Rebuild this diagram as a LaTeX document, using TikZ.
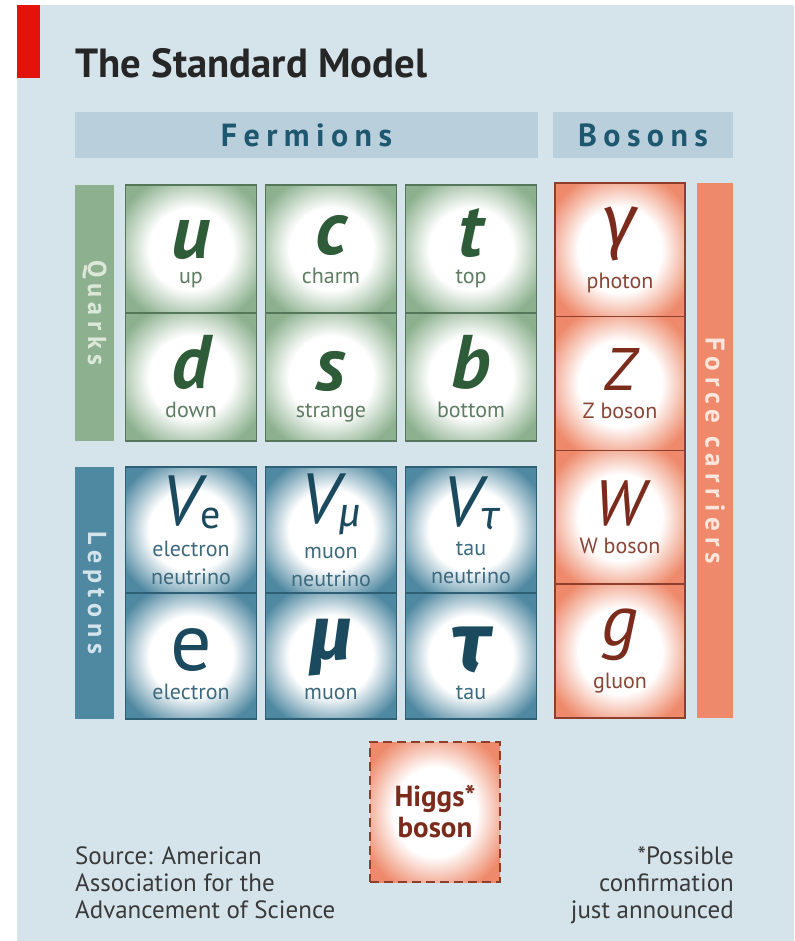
\documentclass[tikz,border=0pt]{standalone}
\usepackage{fontspec}
\setmainfont{PT Sans}
\newfontfamily\greekfont{Fira Sans}
\definecolor{pagebg}{HTML}{D5E3EB}
\definecolor{headbg}{HTML}{B9D0DC}
\definecolor{headtxt}{HTML}{1D5870}
\definecolor{ecored}{HTML}{E3120B}
\definecolor{quarkfill}{HTML}{8DB18F}
\definecolor{quarkline}{HTML}{56775A}
\definecolor{quarktxt}{HTML}{2E5C38}
\definecolor{quarklbl}{HTML}{5E7D62}
\definecolor{quarkpale}{HTML}{DCE8DA}
\definecolor{leptonfill}{HTML}{4F88A1}
\definecolor{leptonline}{HTML}{2F5F75}
\definecolor{leptontxt}{HTML}{1B4A5E}
\definecolor{leptonlbl}{HTML}{3D6A7E}
\definecolor{leptonpale}{HTML}{D3E4EC}
\definecolor{bosonfill}{HTML}{EE8A6B}
\definecolor{bosonline}{HTML}{8E3F2B}
\definecolor{bosontxt}{HTML}{7A2B1C}
\definecolor{bosonlbl}{HTML}{8A4536}
\definecolor{bosonpale}{HTML}{FCE6DD}
\definecolor{notetxt}{HTML}{3A3A3A}
\pgfdeclareradialshading{quarkglow}{\pgfpoint{0bp}{0bp}}{color(0bp)=(white); color(16bp)=(white); color(30bp)=(quarkfill); color(50bp)=(quarkfill)}
\pgfdeclareradialshading{leptonglow}{\pgfpoint{0bp}{0bp}}{color(0bp)=(white); color(16bp)=(white); color(30bp)=(leptonfill); color(50bp)=(leptonfill)}
\pgfdeclareradialshading{bosonglow}{\pgfpoint{0bp}{0bp}}{color(0bp)=(white); color(16bp)=(white); color(30bp)=(bosonfill); color(50bp)=(bosonfill)}
\newcommand{\lblfont}{\fontsize{22}{20}\selectfont\lineskiplimit=12pt\lineskip=12pt}
\newcommand{\quarksym}[1]{{\fontsize{76}{76}\selectfont\bfseries\itshape\color{quarktxt}#1}}
\newcommand{\neutrinosym}[1]{{\fontsize{71}{71}\selectfont\itshape\color{leptontxt}V\raisebox{-3pt}{\fontsize{40}{40}\selectfont #1}}}
\newcommand{\leptonsym}[2]{{\fontsize{#1}{#1}\selectfont\color{leptontxt}#2}}
\newcommand{\bosonsym}[2]{{\fontsize{#1}{#1}\selectfont\itshape\color{bosontxt}#2}}
\newcommand{\headfont}{\fontsize{32}{32}\selectfont\bfseries\addfontfeatures{LetterSpace=20}}
\newcommand{\sidefont}{\fontsize{26}{26}\selectfont\bfseries\addfontfeatures{LetterSpace=22}}
\newcommand{\notefont}{\fontsize{25}{27}\selectfont}
\newcommand{\titlefont}{\fontsize{40.7}{42}\selectfont\bfseries}
\begin{document}
\begin{tikzpicture}[
    x=1pt, y=-1pt,
    cell/.style={
        shade,
        line width=1.5pt,
        inner sep=0pt,
        minimum width=131pt,
        minimum height=128pt,
        align=center,
        font=\lblfont
    },
    quark/.style={cell, shading=quarkglow, draw=quarkline, text=quarklbl, text height=74pt, text depth=6pt},
    lowquark/.style={quark, text height=86pt},
    lepton/.style={cell, minimum height=126pt, shading=leptonglow, draw=leptonline, text=leptonlbl},
    lowlepton/.style={lepton, text height=92pt, text depth=6pt},
    boson/.style={cell, minimum width=130pt, minimum height=133.75pt, shading=bosonglow, draw=bosonline, text=bosonlbl},
    higgs/.style={cell, minimum width=130pt, minimum height=140pt, shading=bosonglow, draw=bosonline, dash pattern=on 9pt off 5pt, text=bosontxt, font=\fontsize{29}{31}\selectfont\bfseries},
    header/.style={fill=headbg, text=headtxt, inner sep=0pt, minimum height=46pt, font=\headfont},
    sidebar/.style={rotate=-90, inner sep=0pt, minimum height=39pt, font=\sidefont},
    note/.style={inner sep=0pt, text=notetxt, font=\notefont}
]
    \useasboundingbox (0,0) rectangle (794,941);
    \fill[white] (0,0) rectangle (794,941);
    \fill[pagebg] (17,5) rectangle (794,941);
    \fill[ecored] (17,5) rectangle (40,78);

    \node[anchor=base west, inner sep=0pt, text=black!85, font=\titlefont] (title) at (75,78) {The Standard Model};

    \node[header, minimum width=463pt] (fermions) at (306.5,135) {Fermions};
    \node[header, minimum width=180pt] (bosons) at (643,135) {Bosons};

    \node[sidebar, fill=quarkfill, text=quarkpale, minimum width=256pt] (quarks) at (94.5,313) {Quarks};
    \node[sidebar, fill=leptonfill, text=leptonpale, minimum width=252pt] (leptons) at (94.5,593) {Leptons};
    \node[sidebar, fill=bosonfill, text=bosonpale, minimum width=535pt, minimum height=36pt, font=\fontsize{27}{27}\selectfont\bfseries\addfontfeatures{LetterSpace=22}] (carriers) at (715,450.5) {Force carriers};

    \node[quark] (up) at (191,249) {\quarksym{u}\\up};
    \node[quark] (charm) at (331,249) {\quarksym{c}\\charm};
    \node[quark] (top) at (471,249) {\quarksym{t}\\top};
    \node[lowquark] (down) at (191,377) {\quarksym{d}\\down};
    \node[lowquark] (strange) at (331,377) {\quarksym{s}\\strange};
    \node[lowquark] (bottom) at (471,377) {\quarksym{b}\\bottom};

    \node[lepton] (nue) at (191,530) {\neutrinosym{\upshape e}\\electron\\neutrino};
    \node[lepton] (numu) at (331,530) {\neutrinosym{\greekfont μ}\\muon\\neutrino};
    \node[lepton] (nutau) at (471,530) {\neutrinosym{\greekfont τ}\\tau\\neutrino};
    \node[lowlepton] (electron) at (191,656) {\leptonsym{82}{e}\\electron};
    \node[lowlepton] (muon) at (331,656) {\leptonsym{76}{\greekfont\bfseries\itshape μ}\\muon};
    \node[lowlepton] (tau) at (471,656) {\leptonsym{84}{\greekfont\bfseries\itshape τ}\\tau};

    \node[boson] (photon) at (620,249.9) {\bosonsym{72}{\greekfont γ}\\photon};
    \node[boson] (zboson) at (620,383.6) {\bosonsym{60}{Z}\\Z boson};
    \node[boson] (wboson) at (620,517.4) {\bosonsym{64}{W}\\W boson};
    \node[boson] (gluon) at (620,651.1) {\bosonsym{72}{g}\\gluon};

    \node[higgs] (higgs) at (435,812) {Higgs*\\boson};

    \node[note, anchor=north west, align=left] (source) at (75,846) {Source: American\\Association for the\\Advancement of Science};
    \node[note, anchor=north east, align=right] (footnote) at (734,846) {*Possible\\confirmation\\just announced};
\end{tikzpicture}
\end{document}
